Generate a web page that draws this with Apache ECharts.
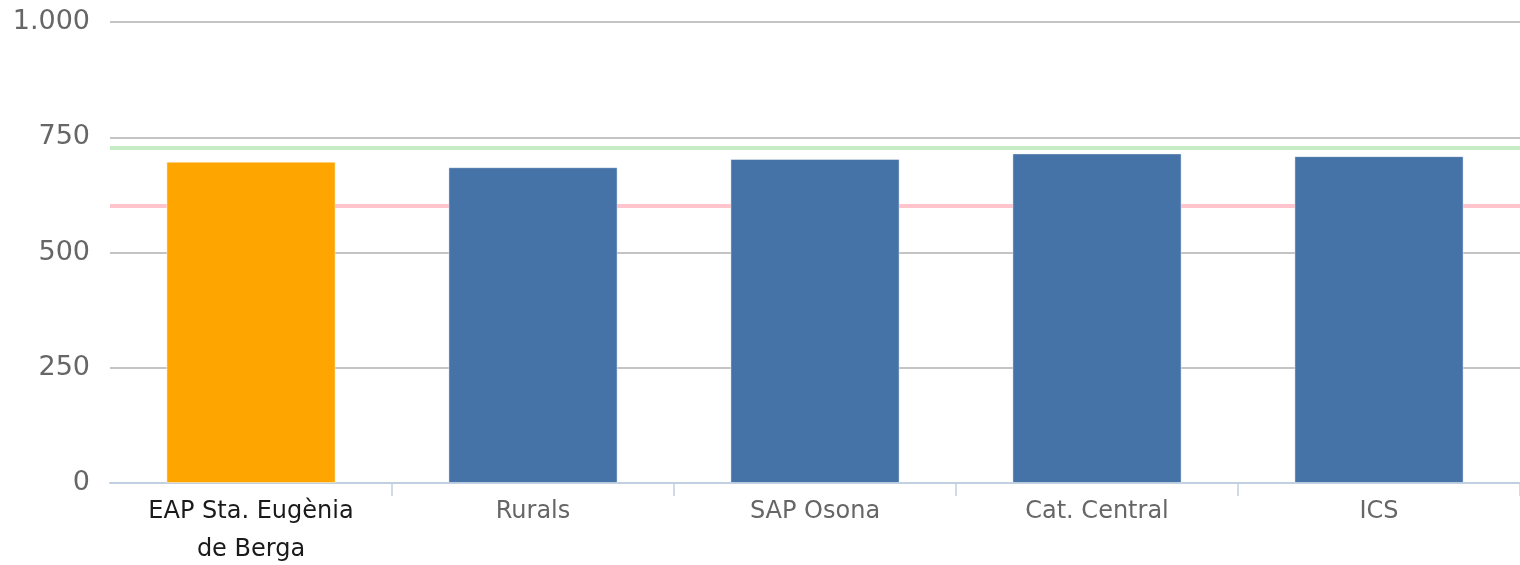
<!DOCTYPE html>
<html>
<head>
<meta charset="utf-8">
<script src="https://cdn.jsdelivr.net/npm/echarts@6/dist/echarts.min.js"></script>
<style>
html,body{margin:0;padding:0;background:#fff;}
#chart{width:1520px;height:565px;}
</style>
</head>
<body>
<div id="chart"></div>
<script>
const categories = ['EAP Sta. Eugènia\nde Berga', 'Rurals', 'SAP Osona', 'Cat. Central', 'ICS'];
const values = [697, 685, 703, 715, 709];
const highlightIndex = 0;
const targetValue = 727;   // green reference line
const minimumValue = 601;  // red reference line
const yTicks = [0, 250, 500, 750, 1000];

const chart = echarts.init(document.getElementById('chart'));
const fmt = v => String(v).replace(/\B(?=(\d{3})+(?!\d))/g, '.');

chart.setOption({
  animation: false,
  grid: { left: 110, right: 0, top: 22, bottom: 82, containLabel: false, outerBoundsMode: 'none' },
  xAxis: {
    type: 'category',
    data: categories,
    axisLine: { lineStyle: { color: '#C0D0E0', width: 2 } },
    axisTick: { show: true, length: 13, interval: i => i !== 0, lineStyle: { color: '#C0D0E0', width: 1.5 } },
    axisLabel: {
      fontFamily: 'DejaVu Sans',
      fontSize: 24,
      lineHeight: 38,
      color: '#666',
      margin: 10,
      interval: 0,
      formatter: (v, i) => i === highlightIndex ? '{hl|' + v.split('\n').join('}\n{hl|') + '}' : v,
      rich: { hl: { color: '#1a1a1a', fontSize: 24, lineHeight: 38, fontFamily: 'DejaVu Sans' } }
    },
    splitLine: { show: false }
  },
  yAxis: {
    type: 'value',
    min: yTicks[0],
    max: yTicks[yTicks.length - 1],
    interval: yTicks[1] - yTicks[0],
    axisLine: { show: false },
    axisTick: { show: false },
    axisLabel: {
      fontFamily: 'DejaVu Sans',
      fontSize: 27,
      color: '#666',
      margin: 20,
      formatter: v => fmt(v)
    },
    splitLine: { lineStyle: { color: '#c4c4c4', width: 2 } }
  },
  series: [
    {
      type: 'line',
      data: [],
      z: 1,
      silent: true,
      markLine: {
        z: 1,
        silent: true,
        symbol: ['none', 'none'],
        label: { show: false },
        data: [
          { yAxis: targetValue, lineStyle: { color: '#c6ecc6', width: 4, type: 'solid' } },
          { yAxis: minimumValue, lineStyle: { color: '#ffc4cc', width: 4, type: 'solid' } }
        ]
      }
    },
    {
      type: 'bar',
      data: values,
      z: 3,
      barWidth: '60%',
      itemStyle: {
        color: p => p.dataIndex === highlightIndex ? '#FFA500' : '#4572A7',
        borderColor: 'rgba(255,255,255,0.45)',
        borderWidth: 1
      }
    }
  ]
});
</script>
</body>
</html>
